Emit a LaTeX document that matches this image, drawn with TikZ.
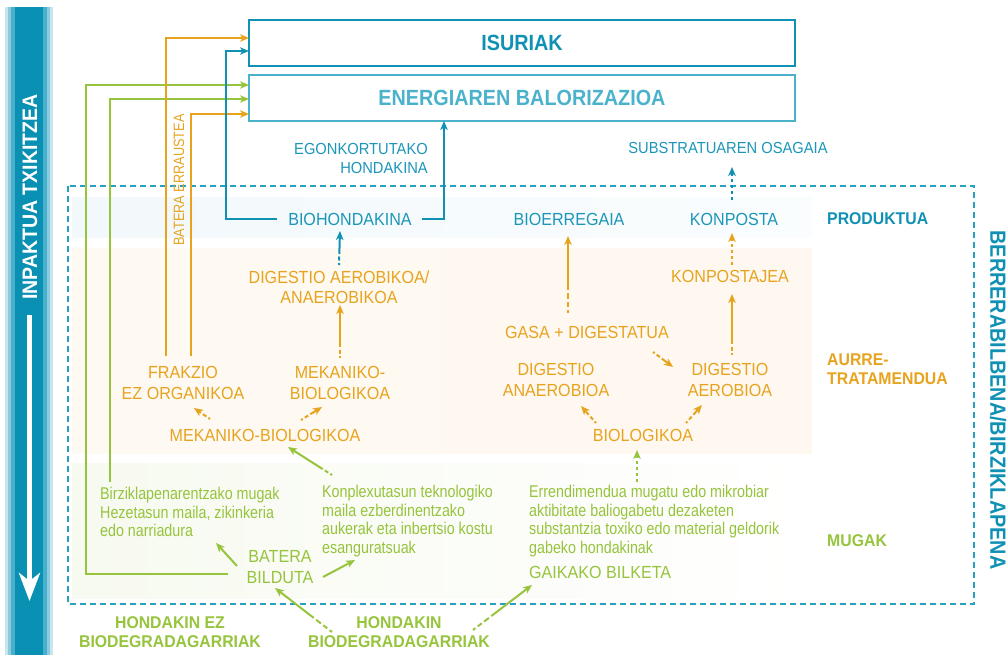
\documentclass[tikz,border=0pt]{standalone}
\usepackage{fontspec}
\setmainfont{Liberation Sans}
\newfontfamily\condfont[FakeStretch=0.84]{Liberation Sans}
\newfontfamily\labfont[FakeStretch=0.92]{Liberation Sans}
\newfontfamily\smallcond[FakeStretch=0.85]{Liberation Sans}
\newfontfamily\bcond[FakeStretch=0.93]{Liberation Sans}
\newfontfamily\bbig[FakeStretch=0.9]{Liberation Sans}
\usetikzlibrary{arrows.meta,calc}
\definecolor{cTeal}{RGB}{16,145,180}
\definecolor{cLteal}{RGB}{75,178,204}
\definecolor{cTxt}{RGB}{28,150,184}
\definecolor{cOr}{RGB}{232,163,30}
\definecolor{cGr}{RGB}{150,196,60}
\definecolor{cDash}{RGB}{40,160,196}
\definecolor{cBarA}{RGB}{200,228,237}
\definecolor{cBarB}{RGB}{140,203,222}
\definecolor{cBarC}{RGB}{70,176,205}
\definecolor{cBarD}{RGB}{10,144,178}
\tikzset{
  arr/.style={-{Stealth[length=9pt,width=7.5pt,inset=2.5pt]}, line width=2pt},
  fade/.style={dash pattern=on 2pt off 2.5pt on 4pt off 2.5pt on 1000pt},
  fadelong/.style={dash pattern=on 3pt off 3pt on 5pt off 3pt on 6pt off 3pt on 1000pt},
  dashy/.style={dash pattern=on 3pt off 3pt},
  lbl/.style={font=\labfont\fontsize{17.5}{20.5}\selectfont, inner sep=0pt, align=center},
  olbl/.style={lbl, text=cOr},
  tlbl/.style={lbl, text=cTxt},
  glbl/.style={lbl, text=cGr},
  gtxt/.style={font=\condfont\fontsize{17}{18.5}\selectfont, text=cGr, align=left, inner sep=0pt, anchor=west},
  hd/.style={font=\bcond\bfseries\fontsize{17}{19.5}\selectfont, inner sep=0pt, align=left},
  bigbox/.style={draw, minimum width=546pt, minimum height=46pt, outer sep=0pt, inner sep=0pt, font=\bbig\bfseries\fontsize{22}{24}\selectfont},
}
\begin{document}
\begin{tikzpicture}[x=1pt,y=-1pt]
\useasboundingbox (0,0) rectangle (1008,655);
% background bands
\shade[left color={rgb,255:red,242;green,248;blue,251}, middle color={rgb,255:red,220;green,237;blue,244}, right color={rgb,255:red,250;green,253;blue,254}] (72,197) rectangle (812,237);
\shade[left color={rgb,255:red,254;green,249;blue,242}, middle color={rgb,255:red,252;green,240;blue,222}, right color={rgb,255:red,254;green,248;blue,240}] (72,248) rectangle (812,453);
\shade[left color={rgb,255:red,247;green,250;blue,240}, middle color={rgb,255:red,240;green,246;blue,228}, right color=white] (72,463) rectangle (812,598);
% left bar
\fill[cBarA] (5,7) rectangle (53,655);
\fill[cBarB] (8,7) rectangle (50,655);
\fill[cBarC] (11,7) rectangle (47,655);
\fill[cBarD] (15,7) rectangle (43,655);
\coordinate (impTop) at (29.5,315);
\coordinate (impBot) at (29.5,601);
\draw[white, line width=5pt, -{Stealth[length=28pt,width=21pt,inset=8pt]}] (impTop) -- (impBot);
\node[rotate=90, text=white, font=\bcond\bfseries\fontsize{21}{23}\selectfont, inner sep=0pt] (inp) at (30,197) {INPAKTUA TXIKITZEA};
% dashed frame
\draw[cDash, line width=1.3pt, dash pattern=on 6pt off 4pt] (68,186) rectangle (974,604);
% top boxes
\node[bigbox, draw=cTeal, line width=2.8pt, text=cTeal] (isuriak) at (522,43) {ISURIAK};
\node[bigbox, draw=cLteal, line width=2.4pt, text=cLteal] (energia) at (522,98) {ENERGIAREN BALORIZAZIOA};
\node[tlbl, align=right, anchor=east, font=\labfont\fontsize{16}{19}\selectfont] (egon) at (428,158) {EGONKORTUTAKO\\HONDAKINA};
\node[tlbl, font=\labfont\fontsize{16}{19}\selectfont] (subst) at (728,148) {SUBSTRATUAREN OSAGAIA};
% product row
\node[tlbl] (bioh) at (350,219) {BIOHONDAKINA};
\node[tlbl] (bioerr) at (569,219) {BIOERREGAIA};
\node[tlbl] (konposta) at (734,219) {KONPOSTA};
% pretreatment
\node[olbl] (dae) at (339,287) {DIGESTIO AEROBIKOA/\\ANAEROBIKOA};
\node[olbl] (mek2) at (340,383) {MEKANIKO-\\BIOLOGIKOA};
\node[olbl] (frak) at (183,383) {FRAKZIO\\EZ ORGANIKOA};
\node[olbl] (mekbio) at (265,435) {MEKANIKO-BIOLOGIKOA};
\node[olbl] (gasa) at (587,332) {GASA + DIGESTATUA};
\node[olbl] (dan) at (556,380) {DIGESTIO\\ANAEROBIOA};
\node[olbl] (daer) at (730,380) {DIGESTIO\\AEROBIOA};
\node[olbl] (biolog) at (643,435) {BIOLOGIKOA};
\node[olbl] (konpj) at (730,276) {KONPOSTAJEA};
% limits
\node[gtxt] (birz) at (100,512) {Birziklapenarentzako mugak\\Hezetasun maila, zikinkeria\\edo narriadura};
\node[gtxt] (konpl) at (322,521) {Konplexutasun teknologiko\\maila ezberdinentzako\\aukerak eta inbertsio kostu\\esanguratsuak};
\node[gtxt] (errend) at (529,521) {Errendimendua mugatu edo mikrobiar\\aktibitate baliogabetu dezaketen\\substantzia toxiko edo material geldorik\\gabeko hondakinak};
\node[glbl] (batera) at (280,567) {BATERA\\BILDUTA};
\node[glbl, anchor=west] (gaik) at (529,572) {GAIKAKO BILKETA};
\node[hd, text=cGr, align=center] (hez) at (170,632) {HONDAKIN EZ\\BIODEGRADAGARRIAK};
\node[hd, text=cGr, align=center] (hbio) at (399,632) {HONDAKIN\\BIODEGRADAGARRIAK};
% right labels
\node[hd, text=cTeal, anchor=west] (prod) at (827,219) {PRODUKTUA};
\node[hd, text=cOr, anchor=west] (aurre) at (827,369) {AURRE-\\TRATAMENDUA};
\node[hd, text=cGr, anchor=west] (mugak) at (827,541) {MUGAK};
\node[rotate=-90, text=cTeal, font=\bbig\bfseries\fontsize{22}{24}\selectfont, inner sep=0pt] (berr) at (998,400) {BERRERABILBENA/BIRZIKLAPENA};
\node[rotate=90, text=cOr, font=\smallcond\fontsize{15}{17}\selectfont, inner sep=0pt] (errau) at (179,180) {BATERA ERRAUSTEA};
% long connectors to top boxes
\draw[arr, cGr] ($(batera)+(-52,7)$) -- ++(-142,0) |- ($(energia.west)+(0,-13)$);
\draw[arr, cGr] ($(birz.west)+(10,-30)$) |- ($(energia.west)+(0,1)$);
\draw[arr, cOr] ($(frak)+(-17,-27)$) |- ($(isuriak.west)+(0,-5)$);
\draw[arr, cOr] ($(frak)+(8,-27)$) |- ($(energia.west)+(0,16)$);
\draw[arr, cTeal] ($(bioh)+(-73,0)$) -- ++(-51,0) |- ($(isuriak.west)+(0,8)$);
\draw[arr, cTeal] ($(bioh)+(72,0)$) -| ($(energia.south)+(-78,0)$);
% process connectors
\draw[arr, cTeal, fade] ($(dae)+(0,-22)$) -- ($(bioh)+(-10,12)$);
\draw[arr, cOr, fade] ($(mek2)+(0,-25)$) -- ($(dae)+(1,18)$);
\draw[arr, cOr, fade] ($(mekbio)+(-55,-16)$) -- ($(frak)+(11,25)$);
\draw[arr, cOr, fade] ($(mekbio)+(36,-15)$) -- ($(mek2)+(-18,24)$);
\draw[arr, cOr, fadelong] ($(gasa)+(-19,-19)$) -- ($(bioerr)+(-1,17)$);
\draw[arr, cOr, fade] ($(gasa)+(66,20)$) -- ($(daer)+(-57,-13)$);
\draw[arr, cOr, fade] ($(biolog)+(-47,-12)$) -- ($(dan)+(25,26)$);
\draw[arr, cOr, fade] ($(biolog)+(43,-12)$) -- ($(daer)+(-28,25)$);
\draw[arr, cOr, fade] ($(daer)+(2,-25)$) -- ($(konpj)+(2,18)$);
\draw[arr, cOr, dashy] ($(konpj)+(2,-11)$) -- ($(konposta)+(-2,14)$);
\draw[arr, cTeal, dashy] ($(konposta)+(-2,-19)$) -- ($(subst)+(4,19)$);
\draw[arr, cGr, fade] ($(konpl.west)+(10,-46)$) -- ($(mekbio)+(23,12)$);
\draw[arr, cGr] ($(batera)+(-43,-1)$) -- ($(birz.west)+(116,31)$);
\draw[arr, cGr] ($(batera)+(43,10)$) -- ($(konpl.west)+(33,39)$);
\draw[arr, cGr, fadelong] ($(hbio)+(-67,0)$) -- ($(batera)+(-5,21)$);
\draw[arr, cGr, fadelong] ($(hbio)+(74,-2)$) -- ($(gaik.west)+(3,13)$);
\draw[arr, cGr, dashy] ($(errend.west)+(108,-39)$) -- ($(biolog)+(-6,15)$);
\end{tikzpicture}
\end{document}
